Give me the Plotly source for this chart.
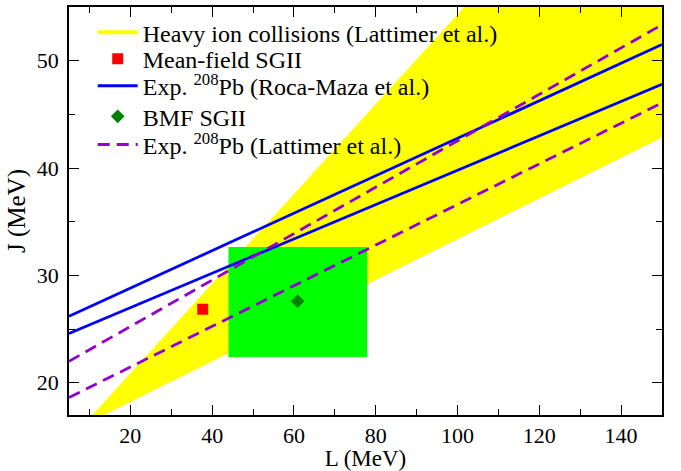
import plotly.graph_objects as go

# Heavy ion collisions region (Lattimer et al.) polygon vertices (L, J)
hic_L = [8.3, 150.0, 150.0]
hic_J = [16.0, 42.85, 75.2]

# BMF SGII uncertainty box
box_L = [44.0, 77.9, 77.9, 44.0, 44.0]
box_J = [22.4, 22.4, 32.65, 32.65, 22.4]

# Exp. 208Pb (Roca-Maza et al.) bounding lines
rm_L = [5.0, 150.0]
rm_J_upper = [26.2, 51.5]
rm_J_lower = [24.6, 47.8]

# Exp. 208Pb (Lattimer et al.) bounding lines
lat_L = [5.0, 150.0]
lat_J_upper = [22.0, 53.35]
lat_J_lower = [18.63, 46.07]

# Points
mf_L = [37.7]
mf_J = [26.85]
bmf_L = [60.9]
bmf_J = [27.6]

FONT = "Liberation Serif"
BLUE = "#0000ff"
PURPLE = "#9400d3"

fig = go.Figure()

fig.add_trace(go.Scatter(x=hic_L, y=hic_J, fill="toself", fillcolor="#ffff00",
                         mode="none", showlegend=False, hoverinfo="skip"))
fig.add_trace(go.Scatter(x=box_L, y=box_J, fill="toself", fillcolor="#00ff00",
                         mode="none", showlegend=False, hoverinfo="skip"))
# legend-only entry for the heavy-ion region
fig.add_trace(go.Scatter(x=[None], y=[None], mode="lines",
                         line=dict(color="#ffff00", width=4),
                         name="Heavy ion collisions (Lattimer et al.)", legend="legend"))

fig.add_trace(go.Scatter(x=rm_L, y=rm_J_upper, mode="lines", line=dict(color=BLUE, width=2.8),
                         name="Exp. <sup>208</sup>Pb (Roca-Maza et al.)", legendgroup="rm",
                         legend="legend3"))
fig.add_trace(go.Scatter(x=rm_L, y=rm_J_lower, mode="lines", line=dict(color=BLUE, width=2.8),
                         legendgroup="rm", showlegend=False, legend="legend3"))

fig.add_trace(go.Scatter(x=lat_L, y=lat_J_upper, mode="lines",
                         line=dict(color=PURPLE, width=2.8, dash="12px,7px"),
                         name="Exp. <sup>208</sup>Pb (Lattimer et al.)", legendgroup="lat",
                         legend="legend5"))
fig.add_trace(go.Scatter(x=lat_L, y=lat_J_lower, mode="lines",
                         line=dict(color=PURPLE, width=2.8, dash="12px,7px"),
                         legendgroup="lat", showlegend=False, legend="legend5"))

fig.add_trace(go.Scatter(x=mf_L, y=mf_J, mode="markers",
                         marker=dict(symbol="square", size=11, color="#ff0000"),
                         name="Mean-field SGII", legend="legend2"))
fig.add_trace(go.Scatter(x=bmf_L, y=bmf_J, mode="markers",
                         marker=dict(symbol="diamond", size=10.5, color="#008000"),
                         name="BMF SGII", legend="legend4"))

axis_common = dict(
    showgrid=False, zeroline=False, showline=True, linecolor="#000000", linewidth=1.5,
    ticks="inside", ticklen=10, tickwidth=1.2, tickcolor="#000000", mirror="allticks",
    tickfont=dict(family=FONT, size=22, color="#000000"),
)

fig.update_xaxes(range=[5, 150], tick0=0, dtick=20,
                 minor=dict(ticks="inside", ticklen=6, dtick=10, tick0=0, tickcolor="#000000", tickwidth=1.2),
                 title=dict(text="L (MeV)", font=dict(family=FONT, size=23, color="#000000"), standoff=2),
                 **axis_common)
fig.update_yaxes(range=[17, 55], tick0=0, dtick=10, ticklabelstandoff=4,
                 minor=dict(ticks="inside", ticklen=6, dtick=5, tick0=0, tickcolor="#000000", tickwidth=1.2),
                 title=dict(text="J (MeV)", font=dict(family=FONT, size=25, color="#000000"), standoff=4),
                 **axis_common)

legend_rows_y = [0.937, 0.872, 0.806, 0.731, 0.662]


def legend_style(y):
    return dict(x=0.04, y=y, xanchor="left", yanchor="middle",
                bgcolor="rgba(0,0,0,0)", borderwidth=0,
                font=dict(family=FONT, size=24, color="#000000"),
                itemwidth=40, tracegroupgap=0)


fig.update_layout(
    width=681, height=471,
    margin=dict(l=69, r=19, t=5, b=52),
    plot_bgcolor="white", paper_bgcolor="white",
    font=dict(family=FONT, size=22, color="#000000"),
    legend=legend_style(legend_rows_y[0]),
    legend2=legend_style(legend_rows_y[1]),
    legend3=legend_style(legend_rows_y[2]),
    legend4=legend_style(legend_rows_y[3]),
    legend5=legend_style(legend_rows_y[4]),
    showlegend=True,
)

fig.write_html("out.html")
